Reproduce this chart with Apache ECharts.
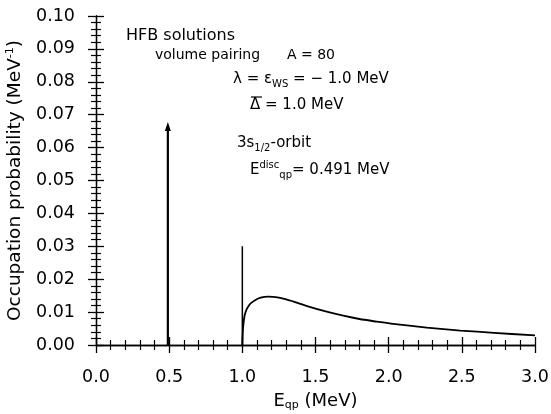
<!DOCTYPE html>
<html><head><meta charset="utf-8">
<script src="https://cdn.jsdelivr.net/npm/echarts@6/dist/echarts.min.js"></script>
<style>html,body{margin:0;padding:0;background:#fff}#c{width:551px;height:414px}</style>
</head><body><div id="c"></div>
<script>
// Data
const discreteX = 0.491;        // discrete quasiparticle energy (MeV)
const discreteTop = 0.0664;     // arrow (delta function) height
const spikeX = 1.0;             // continuum threshold
const spikeTop = 0.030;
const curveX = [1.0, 1.004, 1.008, 1.015, 1.027, 1.045, 1.061, 1.09, 1.12, 1.15, 1.18, 1.24, 1.30, 1.35, 1.46, 1.57, 1.69, 1.80, 1.92, 2.03, 2.26, 2.49, 2.72, 3.0];
const curveY = [0.0, 0.0045, 0.0066, 0.0088, 0.0106, 0.0120, 0.0128, 0.0137, 0.0143, 0.0146, 0.0147, 0.0145, 0.0139, 0.0132, 0.0116, 0.0102, 0.0089, 0.0079, 0.0071, 0.0064, 0.0053, 0.0044, 0.0037, 0.0029];
const xTicks = [0.0, 0.5, 1.0, 1.5, 2.0, 2.5, 3.0];
const yTicks = [0.00, 0.01, 0.02, 0.03, 0.04, 0.05, 0.06, 0.07, 0.08, 0.09, 0.10];

const FONT = 'DejaVu Sans';
const chart = echarts.init(document.getElementById('c'));
const axisCommon = {
  axisLine: {show: true, lineStyle: {color: '#000', width: 1.3}},
  axisTick: {show: true, inside: false, length: 8, lineStyle: {color: '#000', width: 1.3}},
  minorTick: {show: true, splitNumber: 5, length: 5, lineStyle: {color: '#000', width: 1.2}},
  splitLine: {show: false}
};
const curve = curveX.map((x, i) => [x, curveY[i]]);
const sub = {fontSize: 10, lineHeight: 10, verticalAlign: 'bottom', fontFamily: FONT, color: '#000'};
const sup = {fontSize: 10, lineHeight: 10, verticalAlign: 'top', fontFamily: FONT, color: '#000'};
const txt = {fontSize: 15, lineHeight: 20, fontFamily: FONT, color: '#000'};

chart.setOption({
  animation: false,
  backgroundColor: '#fff',
  grid: {left: 96, right: 16, top: 16, bottom: 69, containLabel: false, outerBoundsMode: 'none'},
  xAxis: [
    Object.assign({type: 'value', position: 'bottom', min: 0, max: 3, interval: 0.5,
      axisLabel: {fontSize: 17.5, fontFamily: FONT, color: '#000', margin: 23, formatter: v => v.toFixed(1)},
      name: '{a|E}{s|qp}{a| (MeV)}', nameLocation: 'middle', nameGap: 46,
      nameTextStyle: {rich: {a: Object.assign({}, txt, {fontSize: 18}), s: Object.assign({}, sub, {fontSize: 11})}}
    }, axisCommon),
    Object.assign({type: 'value', position: 'top', min: 0, max: 3, interval: 0.5,
      axisLabel: {show: false}}, axisCommon)
  ],
  yAxis: [
    Object.assign({type: 'value', position: 'left', min: 0, max: 0.1, interval: 0.01,
      axisLabel: {fontSize: 17.5, fontFamily: FONT, color: '#000', margin: 21, formatter: v => v.toFixed(2)},
      name: '{a|Occupation probability (MeV}{p|-1}{a|)}', nameLocation: 'middle', nameGap: 63,
      nameTextStyle: {rich: {a: Object.assign({}, txt, {fontSize: 18.5, lineHeight: 22}), p: Object.assign({}, sup, {fontSize: 11})}}
    }, axisCommon),
    Object.assign({type: 'value', position: 'right', min: 0, max: 0.1, interval: 0.01,
      axisLabel: {show: false}}, axisCommon)
  ],
  series: [
    {type: 'line', xAxisIndex: 0, yAxisIndex: 0, showSymbol: true,
      lineStyle: {color: '#000', width: 2.2}, itemStyle: {color: '#000'},
      data: [{value: [discreteX, 0], symbol: 'none'},
             {value: [discreteX, discreteTop], symbol: 'triangle', symbolSize: [6, 9]}]},
    {type: 'line', showSymbol: false, symbol: 'none',
      lineStyle: {color: '#000', width: 1.5},
      data: [[spikeX, 0], [spikeX, spikeTop]]},
    {type: 'line', showSymbol: false, symbol: 'none', smooth: 0.3,
      lineStyle: {color: '#000', width: 1.8},
      data: curve}
  ],
  graphic: [
    {type: 'text', left: 126, top: 28, style: {text: 'HFB solutions', font: '16px ' + FONT, fill: '#000'}},
    {type: 'text', left: 155, top: 48, style: {text: 'volume pairing', font: '14px ' + FONT, fill: '#000'}},
    {type: 'text', left: 287, top: 48, style: {text: 'A = 80', font: '14px ' + FONT, fill: '#000'}},
    {type: 'text', left: 233, top: 72, style: {
      text: '{a|λ = ε}{s|WS}{a| = − 1.0 MeV}', rich: {a: txt, s: sub}}},
    {type: 'text', left: 250, top: 98, style: {text: 'Δ = 1.0 MeV', font: '15px ' + FONT, fill: '#000'}},
    {type: 'line', shape: {x1: 251, y1: 97, x2: 262, y2: 97}, style: {stroke: '#000', lineWidth: 1.2}},
    {type: 'text', left: 237, top: 136, style: {
      text: '{a|3s}{s|1/2}{a|-orbit}', rich: {a: txt, s: sub}}},
    {type: 'text', left: 250, top: 160, style: {
      text: '{a|E}{p|disc}{s|qp}{a|= 0.491 MeV}', rich: {a: txt, s: sub, p: sup}}}
  ]
});
</script></body></html>
